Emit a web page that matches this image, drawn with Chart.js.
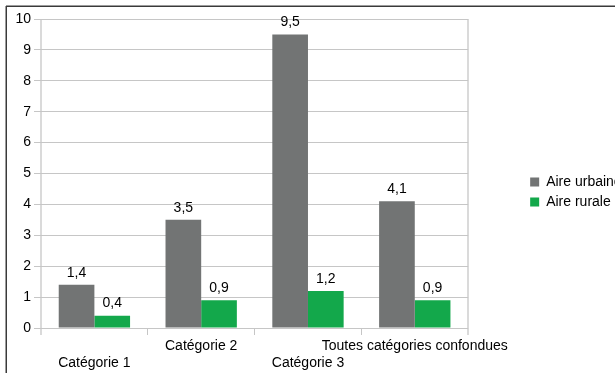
<!DOCTYPE html>
<html>
<head>
<meta charset="utf-8">
<script src="https://cdn.jsdelivr.net/npm/chart.js@4/dist/chart.umd.min.js"></script>
<style>
  html, body { margin: 0; padding: 0; overflow: hidden; background: #fff; }
  #wrap { position: relative; width: 629px; height: 373px; }
</style>
</head>
<body>
<div id="wrap"><canvas id="c"></canvas></div>
<script>
// Categories and series
const categories = ['Catégorie 1', 'Catégorie 2', 'Catégorie 3', 'Toutes catégories confondues'];
const seriesNames = ['Aire urbaine', 'Aire rurale'];
const aireUrbaine = [1.4, 3.5, 9.5, 4.1];
const aireRurale = [0.4, 0.9, 1.2, 0.9];
const yTicks = [0, 1, 2, 3, 4, 5, 6, 7, 8, 9, 10];

const GRAY = '#727474';
const GREEN = '#13a84b';
const GRID = '#c6c6c6';
const EDGE = '#dadada';

Chart.defaults.font.family = "'Liberation Sans', Arial, sans-serif";
Chart.defaults.font.size = 14;
Chart.defaults.color = '#000';

const fmt = v => String(v).replace('.', ',');

// Outer frame of the figure
const framePlugin = {
  id: 'frame',
  beforeDraw(chart) {
    const ctx = chart.ctx;
    ctx.save();
    ctx.fillStyle = '#3a3a3a';
    ctx.fillRect(6, 5.5, chart.width, 1.5);
    ctx.fillRect(5.5, 6, 1.5, chart.height);
    ctx.restore();
  }
};

// Value labels above every bar
const valueLabels = {
  id: 'valueLabels',
  afterDatasetsDraw(chart) {
    const ctx = chart.ctx;
    ctx.save();
    ctx.font = "14px 'Liberation Sans', Arial, sans-serif";
    ctx.fillStyle = '#000';
    ctx.textAlign = 'center';
    ctx.textBaseline = 'middle';
    chart.data.datasets.forEach((ds, di) => {
      chart.getDatasetMeta(di).data.forEach((bar, i) => {
        ctx.fillText(fmt(ds.data[i]), bar.x, bar.y - 12);
      });
    });
    ctx.restore();
  }
};

const isEdge = c => c.index === undefined || c.index === 0;

new Chart(document.getElementById('c'), {
  type: 'bar',
  data: {
    labels: categories,
    datasets: [
      { label: seriesNames[0], data: aireUrbaine, backgroundColor: GRAY,
        categoryPercentage: 0.668, barPercentage: 1 },
      { label: seriesNames[1], data: aireRurale, backgroundColor: GREEN,
        categoryPercentage: 0.668, barPercentage: 1 }
    ]
  },
  options: {
    responsive: true,
    maintainAspectRatio: false,
    animation: false,
    layout: { padding: { top: 11, bottom: 0, left: 0, right: 0 } },
    plugins: {
      tooltip: { enabled: false },
      legend: {
        position: 'right',
        labels: { boxWidth: 9, boxHeight: 9, padding: 6, font: { size: 14 } }
      }
    },
    scales: {
      x: {
        offset: true,
        grid: {
          offset: true,
          drawOnChartArea: true,
          color: c => isEdge(c) ? EDGE : 'rgba(0,0,0,0)',
          lineWidth: c => isEdge(c) ? 2 : 1,
          tickColor: c => isEdge(c) ? EDGE : GRID,
          tickWidth: c => isEdge(c) ? 2 : 1,
          tickLength: 7
        },
        border: { display: false },
        ticks: {
          autoSkip: false,
          maxRotation: 0,
          minRotation: 0,
          padding: 3,
          callback: (v, i) => i % 2 === 0 ? ['', categories[i]] : [categories[i]]
        },
        afterFit: s => { s.height = 45; }
      },
      y: {
        min: 0,
        max: 10,
        afterBuildTicks: s => { s.ticks = yTicks.map(v => ({ value: v })); },
        grid: { color: GRID, lineWidth: 1, tickLength: 7 },
        border: { display: false },
        ticks: { padding: 3, callback: v => fmt(v) },
        afterFit: s => { s.width = 41; s.paddingTop = 19; }
      },
      y2: {
        position: 'right',
        display: true,
        grid: { display: false },
        border: { display: false },
        ticks: { display: false },
        afterFit: s => { s.width = 56; }
      }
    }
  },
  plugins: [framePlugin, valueLabels]
});
</script>
</body>
</html>
